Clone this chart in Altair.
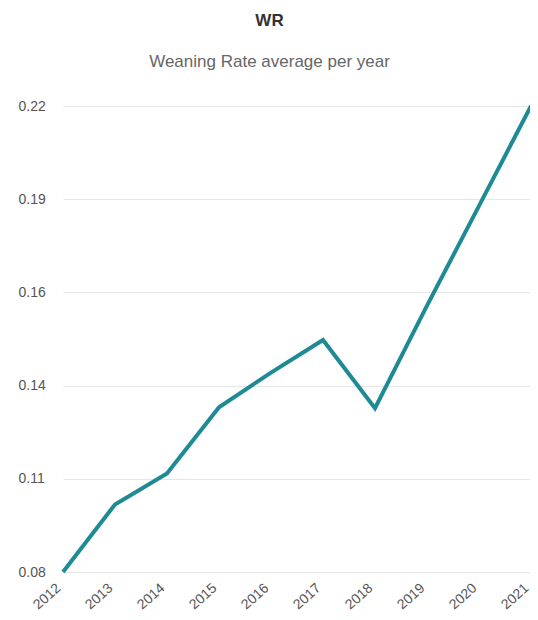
import altair as alt
import pandas as pd

years = ["2012", "2013", "2014", "2015", "2016", "2017", "2018", "2019", "2020", "2021"]
wr = [0.080, 0.1003, 0.1096, 0.1295, 0.1399, 0.1497, 0.1292, 0.160, 0.190, 0.220]
y_ticks = [0.08, 0.108, 0.136, 0.164, 0.192, 0.22]

df = pd.DataFrame({"year": years, "wr": wr})

font = "Liberation Sans"

chart = alt.Chart(df).mark_line(color="#1d8a94", strokeWidth=4, strokeJoin="miter").encode(
    x=alt.X("year:O", title=None,
            scale=alt.Scale(type="point", padding=0),
            axis=alt.Axis(labelAngle=-42, labelFontSize=14, labelColor="#555555",
                          labelFont=font, domain=False, ticks=False, labelPadding=19,
                          labelAlign="right", labelBaseline="bottom", grid=False)),
    y=alt.Y("wr:Q", title=None,
            scale=alt.Scale(domain=[0.08, 0.22], nice=False, zero=False),
            axis=alt.Axis(values=y_ticks, format=".2f", labelFontSize=14, labelColor="#555555",
                          labelFont=font, domain=False, ticks=False, tickSize=0,
                          labelAlign="left", labelPadding=45,
                          gridColor="#e6e6e6", gridWidth=1)),
).properties(
    width=522,
    height=604,
    autosize=alt.AutoSizeParams(type="fit", contains="padding"),
    title=alt.TitleParams(
        "WR",
        subtitle="Weaning Rate average per year",
        font=font, fontSize=17, fontWeight="bold", color="#333333",
        subtitleFont=font, subtitleFontSize=17, subtitleColor="#666666",
        subtitlePadding=24, offset=27, anchor="middle", frame="bounds", dx=-9,
    ),
    padding={"left": 10, "right": -9, "top": 4, "bottom": 0},
).configure_view(stroke=None)

chart.save("out.html", embed_options={"renderer": "svg", "actions": False})
